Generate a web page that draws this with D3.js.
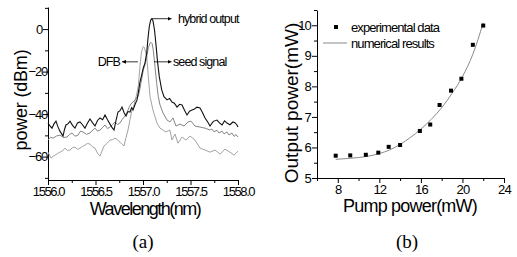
<!DOCTYPE html>
<html><head><meta charset="utf-8">
<script src="https://cdn.jsdelivr.net/npm/d3@7"></script>
<style>
html,body{margin:0;padding:0;background:#fff;}
svg{display:block;background:#fff;}
text{font-family:"Liberation Sans",Arial,sans-serif;fill:#000;}
</style></head><body>
<svg id="chart" width="517" height="257"></svg>
<script>
// ---------- Panel (a) data ----------
const wavelengthTicks = [1556.0, 1556.5, 1557.0, 1557.5, 1558.0];
const wavelengthMinor = [1556.25, 1556.75, 1557.25, 1557.75];
const powerTicks = [0, -20, -40, -60];
const powerMinor = [10, -10, -30, -50, -70];

// [wavelength nm, power dBm]
const hybridOutput = [
  [1556.000,-44.2],[1556.021,-45.5],[1556.042,-46.6],[1556.063,-44.6],[1556.084,-43.3],[1556.105,-46.0],[1556.126,-48.0],
  [1556.158,-50.3],[1556.175,-47.0],[1556.189,-45.1],[1556.210,-44.6],[1556.232,-43.3],[1556.258,-45.3],[1556.284,-46.6],
  [1556.310,-44.2],[1556.337,-43.7],[1556.363,-45.0],[1556.389,-46.6],[1556.415,-44.3],[1556.442,-42.3],[1556.468,-44.0],
  [1556.495,-45.6],[1556.521,-43.0],[1556.547,-41.8],[1556.575,-42.6],[1556.600,-40.4],[1556.625,-42.5],[1556.653,-44.7],
  [1556.675,-46.4],[1556.695,-47.5],[1556.716,-43.0],[1556.737,-39.0],[1556.758,-38.4],[1556.779,-36.7],[1556.800,-39.2],
  [1556.821,-40.9],[1556.842,-38.8],[1556.863,-39.0],[1556.880,-37.0],[1556.895,-38.1],[1556.915,-35.6],[1556.937,-33.3],
  [1556.952,-29.5],[1556.968,-24.9],[1556.986,-21.6],[1557.003,-18.3],[1557.021,-15.9],[1557.039,-11.2],[1557.053,-4.1],
  [1557.066,1.1],[1557.080,4.2],[1557.092,4.9],[1557.105,3.9],[1557.121,-0.3],[1557.137,-7.4],[1557.153,-15.4],
  [1557.172,-22.5],[1557.197,-28.6],[1557.221,-31.8],[1557.253,-33.3],[1557.280,-32.6],[1557.305,-34.3],[1557.330,-34.9],
  [1557.358,-36.7],[1557.385,-35.4],[1557.411,-35.7],[1557.437,-38.2],[1557.463,-40.4],[1557.490,-38.6],[1557.516,-38.1],
  [1557.542,-37.6],[1557.568,-36.7],[1557.600,-37.1],[1557.626,-39.2],[1557.653,-41.8],[1557.680,-43.6],[1557.705,-45.6],
  [1557.740,-43.4],[1557.779,-42.8],[1557.805,-44.1],[1557.832,-45.1],[1557.858,-43.2],[1557.884,-44.2],[1557.915,-45.0],
  [1557.947,-43.7],[1557.968,-44.0],[1557.989,-45.1],[1558.000,-46.1]
];
const seedSignal = [
  [1556.000,-52.2],[1556.026,-50.9],[1556.053,-51.3],[1556.090,-50.3],[1556.126,-49.9],[1556.163,-51.0],[1556.200,-50.8],
  [1556.226,-49.6],[1556.253,-48.9],[1556.284,-50.4],[1556.316,-49.9],[1556.342,-48.0],[1556.368,-48.4],[1556.405,-49.5],
  [1556.442,-48.9],[1556.468,-47.6],[1556.495,-46.6],[1556.521,-48.0],[1556.547,-47.5],[1556.575,-46.3],[1556.600,-45.1],
  [1556.626,-46.8],[1556.653,-46.1],[1556.680,-44.9],[1556.705,-43.7],[1556.732,-44.9],[1556.758,-44.2],[1556.780,-42.6],
  [1556.800,-41.4],[1556.821,-40.2],[1556.842,-38.1],[1556.858,-36.4],[1556.874,-35.2],[1556.895,-34.3],[1556.916,-33.3],
  [1556.935,-32.3],[1556.951,-31.5],[1556.968,-28.0],[1556.986,-23.5],[1557.003,-19.2],[1557.021,-16.8],[1557.039,-13.1],
  [1557.056,-8.8],[1557.074,-6.6],[1557.084,-6.2],[1557.095,-6.7],[1557.108,-9.8],[1557.126,-17.6],[1557.144,-25.5],
  [1557.161,-31.8],[1557.179,-35.7],[1557.211,-39.5],[1557.253,-42.8],[1557.284,-43.7],[1557.316,-41.8],[1557.347,-45.6],
  [1557.389,-44.7],[1557.432,-45.6],[1557.474,-43.7],[1557.505,-43.3],[1557.547,-45.6],[1557.600,-46.1],[1557.653,-46.6],
  [1557.705,-47.5],[1557.726,-47.0],[1557.747,-48.3],[1557.779,-47.6],[1557.800,-48.9],[1557.832,-48.0],[1557.853,-49.3],
  [1557.884,-48.4],[1557.905,-49.8],[1557.937,-48.9],[1557.958,-50.5],[1557.979,-49.6],[1558.000,-50.8]
];
const dfbSignal = [
  [1556.000,-57.9],[1556.032,-60.7],[1556.053,-59.8],[1556.074,-59.3],[1556.100,-58.6],[1556.126,-57.9],[1556.152,-57.3],
  [1556.179,-56.0],[1556.205,-57.1],[1556.232,-56.9],[1556.258,-55.8],[1556.284,-55.5],[1556.310,-56.6],[1556.337,-56.0],
  [1556.363,-55.2],[1556.389,-54.6],[1556.415,-53.8],[1556.442,-54.1],[1556.468,-55.4],[1556.495,-56.0],[1556.521,-58.4],
  [1556.547,-59.8],[1556.568,-57.4],[1556.589,-55.0],[1556.621,-53.8],[1556.653,-52.2],[1556.680,-52.0],[1556.705,-51.3],
  [1556.732,-52.1],[1556.758,-53.2],[1556.780,-54.2],[1556.800,-55.0],[1556.821,-51.0],[1556.842,-47.5],[1556.863,-42.6],
  [1556.884,-38.1],[1556.905,-35.7],[1556.937,-30.0],[1556.951,-26.5],[1556.968,-17.6],[1556.984,-10.7],[1557.003,-8.2],
  [1557.016,-8.8],[1557.039,-12.9],[1557.056,-22.4],[1557.074,-31.8],[1557.105,-38.1],[1557.147,-44.2],[1557.179,-46.6],
  [1557.211,-47.5],[1557.242,-48.4],[1557.284,-47.5],[1557.305,-52.2],[1557.337,-49.4],[1557.368,-53.7],[1557.411,-50.8],
  [1557.453,-52.2],[1557.495,-50.3],[1557.547,-52.2],[1557.600,-56.0],[1557.653,-56.9],[1557.705,-57.9],[1557.758,-56.9],
  [1557.811,-58.8],[1557.863,-56.5],[1557.916,-57.9],[1557.958,-59.3],[1558.000,-57.4]
];
// annotations: label, arrow start [nm,dBm], arrow end [nm,dBm], text anchor
const annotationLabels = ["hybrid output", "DFB", "seed signal"];
const annotationFrom = [[1557.095, 4.9], [1556.947, -15.4], [1557.116, -15.4]];
const annotationTo = [[1557.300, 4.9], [1556.779, -15.4], [1557.300, -15.4]];
const annotationText = [[1557.368, 4.9], [1556.758, -15.4], [1557.316, -15.4]];
const annotationAnchor = ["start", "end", "start"];

// ---------- Panel (b) data ----------
const pumpTicks = [8, 12, 16, 20, 24];
const pumpMinor = [6, 10, 14, 18, 22];
const outTicks = [5, 6, 7, 8, 9, 10];
const outMinor = [5.5, 6.5, 7.5, 8.5, 9.5, 10.5];
const pumpPower = [7.8, 9.2, 10.7, 11.9, 12.9, 14.0, 15.9, 16.9, 17.8, 18.9, 19.9, 21.0, 22.0];
const outputPower = [5.73, 5.74, 5.76, 5.83, 6.02, 6.08, 6.54, 6.75, 7.39, 7.86, 8.25, 9.36, 9.99];
const numPump = [7.8, 9, 10, 11, 12, 13, 14, 15, 16, 17, 18, 19, 20, 21, 22];
const numOutput = [5.61, 5.64, 5.67, 5.72, 5.80, 5.92, 6.10, 6.33, 6.60, 6.92, 7.30, 7.77, 8.32, 9.05, 10.08];
const legendLabels = ["experimental data", "numerical results"];

const svg = d3.select("#chart");
svg.append("rect").attr("width", 517).attr("height", 257).attr("fill", "#fff");

function styleAxis(g, size, spacing) {
  g.attr("font-family", null).attr("font-size", null);
  g.selectAll(".domain").attr("stroke", "#000").attr("stroke-width", 1);
  g.selectAll(".tick line").attr("stroke", "#000").attr("stroke-width", 1);
  g.selectAll(".tick text").style("font-size", size + "px").style("letter-spacing", spacing + "px").attr("fill", "#000");
}
function minorAxis(g) {
  g.select(".domain").remove();
  g.selectAll(".tick line").attr("stroke", "#000").attr("stroke-width", 1);
}

// ---------- Panel (a) ----------
const xA = d3.scaleLinear().domain([1556, 1558]).range([48, 238]);
const yA = d3.scaleLinear().domain([-71, 10.4]).range([180, 7]);
const gA = svg.append("g");

gA.append("g").attr("transform", "translate(0,180)")
  .call(d3.axisBottom(xA).tickValues(wavelengthMinor).tickSize(3).tickFormat(""))
  .call(minorAxis);
gA.append("g").attr("transform", "translate(48,0)")
  .call(d3.axisLeft(yA).tickValues(powerMinor).tickSize(3).tickFormat(""))
  .call(minorAxis);
gA.append("g").attr("transform", "translate(0,180)")
  .call(d3.axisBottom(xA).tickValues(wavelengthTicks).tickFormat(d3.format(".1f")).tickSize(5).tickSizeOuter(0).tickPadding(2))
  .call(g => styleAxis(g, 13, -1.4));
gA.append("g").attr("transform", "translate(48,0)")
  .call(d3.axisLeft(yA).tickValues(powerTicks).tickFormat(d3.format("d")).tickSize(5).tickSizeOuter(0).tickPadding(2))
  .call(g => styleAxis(g, 13, -1.2))
  .call(g => g.selectAll(".tick text").attr("x", d => d === 0 ? -6 : -1));

const lineA = d3.line().x(d => xA(d[0])).y(d => yA(d[1]));
gA.append("path").datum(dfbSignal).attr("d", lineA).attr("fill", "none").attr("stroke", "#a3a3a3").attr("stroke-width", 1);
gA.append("path").datum(seedSignal).attr("d", lineA).attr("fill", "none").attr("stroke", "#858585").attr("stroke-width", 1);
gA.append("path").datum(hybridOutput).attr("d", lineA).attr("fill", "none").attr("stroke", "#111").attr("stroke-width", 1.1);

svg.append("defs").append("marker").attr("id", "arr")
  .attr("viewBox", "0 0 6 6").attr("refX", 6).attr("refY", 3)
  .attr("markerWidth", 4).attr("markerHeight", 4).attr("markerUnits", "userSpaceOnUse")
  .attr("orient", "auto")
  .append("path").attr("d", "M0,0L6,3L0,6Z").attr("fill", "#000");

annotationLabels.forEach((lab, i) => {
  gA.append("line")
    .attr("x1", xA(annotationFrom[i][0])).attr("y1", yA(annotationFrom[i][1]))
    .attr("x2", xA(annotationTo[i][0])).attr("y2", yA(annotationTo[i][1]))
    .attr("stroke", "#000").attr("stroke-width", 0.8).attr("marker-end", "url(#arr)");
  gA.append("text").attr("x", xA(annotationText[i][0])).attr("y", yA(annotationText[i][1]))
    .attr("dy", "0.36em").attr("text-anchor", annotationAnchor[i])
    .style("font-size", "12.5px").style("letter-spacing", "-0.9px").text(lab);
});

svg.append("text").attr("transform", "translate(27,100) rotate(-90)").attr("text-anchor", "middle")
  .style("font-size", "18px").style("letter-spacing", "-0.2px").text("power (dBm)");
svg.append("text").attr("x", 145).attr("y", 214.5).attr("text-anchor", "middle")
  .style("font-size", "18px").style("letter-spacing", "-1.5px").text("Wavelength(nm)");
svg.append("text").attr("x", 143).attr("y", 248).attr("text-anchor", "middle")
  .style("font-family", "'Liberation Serif','Times New Roman',serif").style("font-size", "19px").text("(a)");

// ---------- Panel (b) ----------
const xB = d3.scaleLinear().domain([6, 24]).range([317, 504]);
const yB = d3.scaleLinear().domain([5, 10.5]).range([178, 10]);
const gB = svg.append("g");

gB.append("g").attr("transform", "translate(0,178)")
  .call(d3.axisBottom(xB).tickValues(pumpMinor).tickSize(3).tickFormat(""))
  .call(minorAxis);
gB.append("g").attr("transform", "translate(317,0)")
  .call(d3.axisLeft(yB).tickValues(outMinor).tickSize(3).tickFormat(""))
  .call(minorAxis);
gB.append("g").attr("transform", "translate(0,178)")
  .call(d3.axisBottom(xB).tickValues(pumpTicks).tickFormat(d3.format("d")).tickSize(5).tickSizeOuter(0).tickPadding(2))
  .call(g => styleAxis(g, 13, -0.8));
gB.append("g").attr("transform", "translate(317,0)")
  .call(d3.axisLeft(yB).tickValues(outTicks).tickFormat(d3.format("d")).tickSize(5).tickSizeOuter(0).tickPadding(1))
  .call(g => styleAxis(g, 13, -0.8));

const numData = numPump.map((p, i) => [p, numOutput[i]]);
gB.append("path").datum(numData)
  .attr("d", d3.line().x(d => xB(d[0])).y(d => yB(d[1])).curve(d3.curveMonotoneX))
  .attr("fill", "none").attr("stroke", "#8a8a8a").attr("stroke-width", 1);
gB.selectAll("rect.pt").data(pumpPower.map((p, i) => [p, outputPower[i]])).join("rect")
  .attr("class", "pt").attr("x", d => xB(d[0]) - 2).attr("y", d => yB(d[1]) - 2)
  .attr("width", 4).attr("height", 4).attr("fill", "#000");

// legend
const leg = gB.append("g");
leg.append("rect").attr("x", 334).attr("y", 25).attr("width", 4).attr("height", 4).attr("fill", "#000");
leg.append("text").attr("x", 351).attr("y", 27).attr("dy", "0.36em").style("font-size", "13px").style("letter-spacing", "-0.9px").text(legendLabels[0]);
leg.append("line").attr("x1", 323).attr("x2", 347).attr("y1", 43).attr("y2", 43).attr("stroke", "#8a8a8a").attr("stroke-width", 1);
leg.append("text").attr("x", 351).attr("y", 43).attr("dy", "0.36em").style("font-size", "13px").style("letter-spacing", "-0.9px").text(legendLabels[1]);

svg.append("text").attr("transform", "translate(298,103) rotate(-90)").attr("text-anchor", "middle")
  .style("font-size", "19px").style("letter-spacing", "0px").text("Output power(mW)");
svg.append("text").attr("x", 410).attr("y", 212).attr("text-anchor", "middle")
  .style("font-size", "18px").style("letter-spacing", "-0.8px").text("Pump power(mW)");
svg.append("text").attr("x", 407).attr("y", 248).attr("text-anchor", "middle")
  .style("font-family", "'Liberation Serif','Times New Roman',serif").style("font-size", "19px").text("(b)");
</script>
</body></html>
